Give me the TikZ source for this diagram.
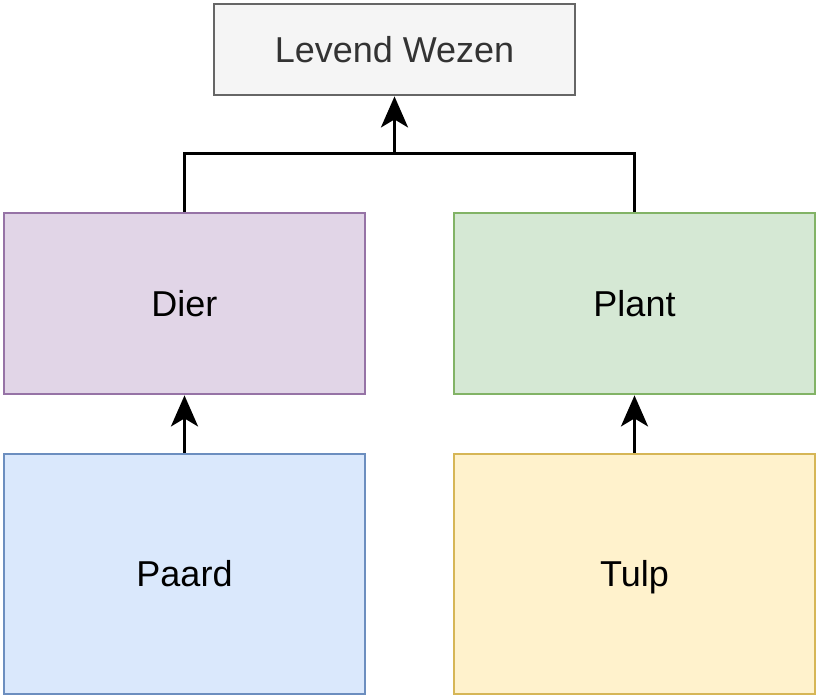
\documentclass[tikz,border=0pt]{standalone}
\usepackage{fontspec}
\setmainfont{Liberation Sans}
\usetikzlibrary{arrows.meta}
\definecolor{lwfill}{HTML}{F5F5F5}\definecolor{lwdraw}{HTML}{666666}\definecolor{lwtext}{HTML}{333333}
\definecolor{dfill}{HTML}{E1D5E7}\definecolor{ddraw}{HTML}{9673A6}
\definecolor{pfill}{HTML}{D5E8D4}\definecolor{pdraw}{HTML}{82B366}
\definecolor{bfill}{HTML}{DAE8FC}\definecolor{bdraw}{HTML}{6C8EBF}
\definecolor{yfill}{HTML}{FFF2CC}\definecolor{ydraw}{HTML}{D6B656}
\begin{document}
\begin{tikzpicture}[x=1pt,y=-1pt,
  box/.style={draw, line width=2.8pt, inner sep=0pt, font=\fontsize{36}{42}\selectfont,
    text height=25.8pt, text depth=0pt},
  link/.style={line width=3pt},
  conn/.style={link, -{Stealth[length=31pt,width=27pt,inset=8pt]}}]
\useasboundingbox (0,0) rectangle (819,699);
\node[box, fill=lwfill, draw=lwdraw, text=lwtext, minimum width=361pt, minimum height=91pt] (lw) at (394.5,49.5) {Levend Wezen};
\node[box, fill=dfill, draw=ddraw, minimum width=361pt, minimum height=181pt] (dier) at (184.5,303.5) {Dier};
\node[box, fill=pfill, draw=pdraw, minimum width=361pt, minimum height=181pt] (plant) at (634.5,303.5) {Plant};
\node[box, fill=bfill, draw=bdraw, minimum width=361pt, minimum height=240pt] (paard) at (184.5,574) {Paard};
\node[box, fill=yfill, draw=ydraw, minimum width=361pt, minimum height=240pt] (tulp) at (634.5,574) {Tulp};
\coordinate (j) at (394.5,153);
\draw[link] (dier.north) |- (j);
\draw[link] (plant.north) |- (j);
\draw[conn] (j) -- (lw.south);
\draw[conn] (paard.north) -- (dier.south);
\draw[conn] (tulp.north) -- (plant.south);
\end{tikzpicture}
\end{document}
